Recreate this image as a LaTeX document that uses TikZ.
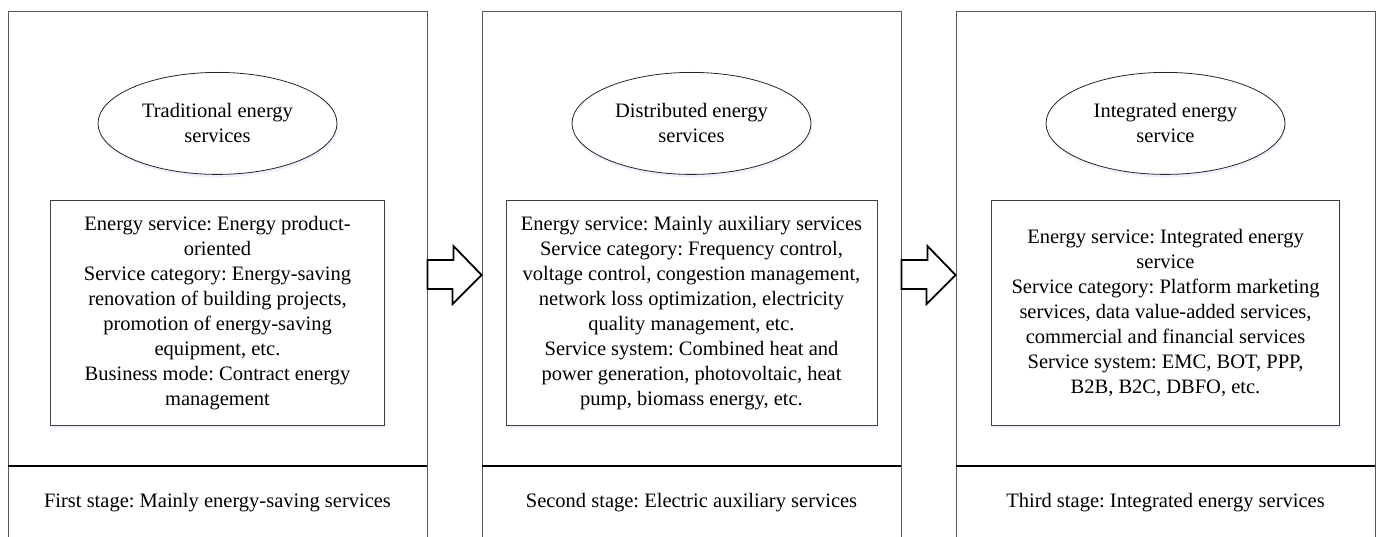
\documentclass[tikz,border=0pt]{standalone}
\usepackage{fontspec}
\setmainfont{Liberation Serif}
\frenchspacing
\usetikzlibrary{positioning,shapes.geometric,shadows}
\tikzset{
	panel/.style = {draw = black!65, line width = 0.9pt, minimum width = 419pt, minimum height = 560pt, anchor = north},
	oval/.style = {ellipse, draw = black!85, line width = 0.8pt, fill = white, minimum width = 239pt, minimum height = 102pt, inner sep = 0pt, align = center, drop shadow = {shadow xshift = 1pt, shadow yshift = -3pt, fill = blue!8, opacity = 0.8}},
	infobox/.style = {draw = black!75, line width = 0.9pt, fill = white, minimum height = 225pt, inner sep = 0pt, align = center, drop shadow = {shadow xshift = 1pt, shadow yshift = -3pt, fill = blue!8, opacity = 0.8}},
	divider/.style = {line width = 1.8pt},
	blockarrow/.style = {draw, line width = 1.8pt, fill = white, line join = miter}
}
\begin{document}
\begin{tikzpicture}[x = 1pt, y = -1pt, font = \fontsize{20.5}{25}\selectfont]
		\clip (0, 0) rectangle (1381, 537);
		%%%%%%%%%%%%%
		\node[panel] (p1) at (217.5, 11) {};
		\node[panel] (p2) at (691.5, 11) {};
		\node[panel] (p3) at (1165.5, 11) {};
		%%%%%%%%%%%%%
		\node[oval, below = 61pt of p1.north] (e1) {Traditional energy\\services};
		\node[oval, below = 61pt of p2.north] (e2) {Distributed energy\\services};
		\node[oval, below = 61pt of p3.north] (e3) {Integrated energy\\service};
		%%%%%%%%%%%%%
		\node[infobox, minimum width = 334pt, below = 25pt of e1] (b1) {Energy service: Energy product-\\oriented\\Service category: Energy-saving\\renovation of building projects,\\promotion of energy-saving\\equipment, etc.\\Business mode: Contract energy\\management};
		\node[infobox, minimum width = 371pt, below = 25pt of e2] (b2) {Energy service: Mainly auxiliary services\\Service category: Frequency control,\\voltage control, congestion management,\\network loss optimization, electricity\\quality management, etc.\\Service system: Combined heat and\\power generation, photovoltaic, heat\\pump, biomass energy, etc.};
		\node[infobox, minimum width = 348pt, below = 25pt of e3] (b3) {Energy service: Integrated energy\\service\\Service category: Platform marketing\\services, data value-added services,\\commercial and financial services\\Service system: EMC, BOT, PPP,\\B2B, B2C, DBFO, etc.};
		%%%%%%%%%%%%%
		\draw [divider] (p1.west |- 0,466) -- (p1.east |- 0,466);
		\draw [divider] (p2.west |- 0,466) -- (p2.east |- 0,466);
		\draw [divider] (p3.west |- 0,466) -- (p3.east |- 0,466);
		\node (s1) at (p1 |- 0,503) {First stage: Mainly energy-saving services};
		\node (s2) at (p2 |- 0,503) {Second stage: Electric auxiliary services};
		\node (s3) at (p3 |- 0,503) {Third stage: Integrated energy services};
		%%%%%%%%%%%%%
		\foreach \a/\b in {p1/p2, p2/p3}
			\draw [blockarrow] (\a.east |- 0,260) -- ++(26, 0) -- ++(0, -14) -- (\b.west |- 0,275) -- ++(-29, 29) -- ++(0, -15) -- (\a.east |- 0,289) -- cycle;
		%%%%%%%%%%%%%%
	\end{tikzpicture}
\end{document}
